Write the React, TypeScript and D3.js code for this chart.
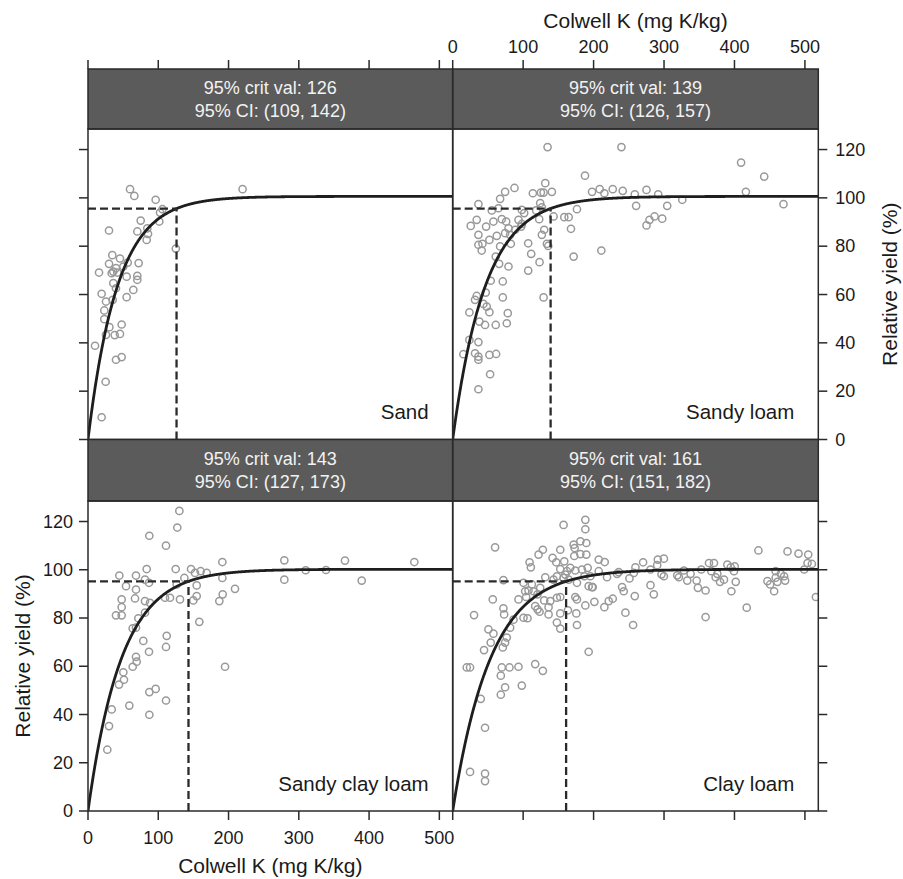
import React from "react";
import * as d3 from "d3";

const soils = ["Sand", "Sandy loam", "Sandy clay loam", "Clay loam"];
const critVals = [126, 139, 143, 161];
const ciLow = [109, 126, 127, 151];
const ciHigh = [142, 157, 173, 182];
const asymptotes = [100.6, 100.6, 100.2, 100.2];
const xTicks = [0, 100, 200, 300, 400, 500];
const yTicks = [0, 20, 40, 60, 80, 100, 120];
const xTitle = "Colwell K (mg K/kg)";
const yTitle = "Relative yield (%)";

const sandPts: [number, number][] = [
  [59.8, 103.6], [65.9, 100.8], [96.3, 99.2], [220, 103.6], [106, 95.3], [102.5, 93.9], [101.5, 90.2],
  [75, 90.6], [29.9, 86.5], [70.2, 86.1], [84.4, 87.4], [85.4, 85.1], [83.5, 82.6], [125, 79],
  [34.6, 76.3], [45.5, 74.9], [29.9, 72.7], [56.5, 73.2], [72.1, 73], [39.8, 70.9], [15.7, 69.1],
  [33.7, 68.8], [41.7, 69.1], [55, 67.4], [70.2, 67.7], [70.2, 66.1], [36, 64.7], [39.8, 62.6],
  [64.5, 61.9], [19.4, 60.3], [25.6, 57.1], [35.1, 57.8], [55, 58.9], [23.2, 53.4], [23.2, 49.8],
  [30.4, 46.5], [47.9, 47.6], [25.6, 43.3], [38, 43.2], [45.5, 43.7], [10, 38.8], [39.8, 33],
  [47.9, 34.1], [25.1, 23.9], [19.4, 9.2], [50.3, 71.6], [36, 69.5],
];

const sandyLoamPts: [number, number][] = [
  [134.7, 121], [239.5, 121], [409.4, 114.6], [442.2, 108.8], [416.2, 102.5], [469.6, 97.4],
  [187.8, 109.2], [131.4, 106.1], [87.7, 104.1], [74.4, 102.5], [67.3, 99.6], [36.5, 97.4],
  [113.8, 101.9], [125.2, 102.2], [129, 102.2], [140.8, 102.5], [124.2, 97.8], [55.5, 94.8],
  [64.9, 95.7], [98.1, 95], [118.5, 94.8], [126.6, 96.1], [197.8, 102.5], [208.7, 103.6],
  [215.3, 101.9], [227.2, 103.6], [241.4, 102.9], [258.5, 101.5], [275.1, 103.3], [291.7, 101.5],
  [325.9, 99.2], [260.4, 96.7], [304.5, 96.7], [176.4, 95.3], [158.4, 92], [164.6, 92],
  [167.9, 87.2], [143.2, 92.3], [275.1, 88.6], [279.4, 90.9], [286.5, 92.3], [297.4, 91.4],
  [171.7, 75.7], [211, 78.2], [25.6, 88.4], [34.1, 90.9], [47.4, 88.1], [57.8, 90.2],
  [69.7, 91.2], [75.9, 90.2], [93.4, 90.9], [97.2, 88.1], [36.5, 84.7], [52.1, 82.6],
  [62.6, 84.3], [74.4, 85.4], [81.5, 84.7], [36.5, 80.6], [42.2, 81], [41.2, 78.2],
  [67.3, 79.9], [82.5, 81], [122.8, 91.2], [129.9, 86.8], [126.6, 84.7], [133.7, 81],
  [135.6, 80.1], [107.2, 81.2], [111.4, 76.8], [123.3, 73.4], [107.2, 69.9], [61.1, 75.7],
  [65.9, 72.7], [79.2, 71.6], [54, 65.7], [71.1, 65.4], [46.9, 60.8], [34.1, 59.4],
  [31.7, 57.8], [71.1, 58.8], [129, 58.8], [43.6, 56.1], [48.3, 55], [23.7, 52.6],
  [52.1, 52.7], [78.2, 52.3], [37.9, 48.8], [45.9, 47.4], [61.1, 47.4], [76.8, 48.1],
  [23.7, 41.2], [36.5, 40.3], [15.1, 35.3], [31.7, 35.7], [36.5, 34.3], [36.5, 33],
  [52.1, 35], [61.6, 35.4], [53.1, 27], [36.5, 20.8], [79.2, 87.4], [88.7, 86.8],
  [98.2, 89.2], [101.5, 93.7],
];

const sandyClayLoamPts: [number, number][] = [
  [130, 124.4], [127.1, 117.5], [87.3, 114.1], [111, 110], [44.6, 97.6], [68.3, 97.6],
  [83.5, 100.3], [124.8, 100.3], [146.6, 100.3], [152.3, 98.7], [160.3, 99.4], [168.9, 98.7],
  [191.2, 103.2], [279.4, 103.9], [365.7, 103.8], [464.4, 103.2], [309.8, 99.8], [338.7, 99.9],
  [279.4, 95.9], [389.5, 95.5], [191.2, 96.6], [81.1, 95.9], [86.8, 94.6], [54.1, 93.2],
  [68.3, 91.8], [137.1, 96.6], [126.2, 93.9], [154.7, 93.5], [209.2, 92.1], [191.7, 89.8],
  [186.9, 87], [154.7, 89.1], [149.9, 87.3], [130.9, 87.7], [109.6, 88.4], [116.7, 88.4],
  [66.9, 88.1], [47.9, 87.7], [81.1, 87], [88.2, 86.3], [47.9, 84.5], [39.8, 81.1],
  [47.9, 81.1], [81.1, 82.2], [71.6, 79.9], [63.6, 75.7], [68.3, 76], [158.4, 78.4],
  [112, 72.6], [78.7, 70.5], [111, 68], [86.8, 66], [68.3, 63.9], [69.3, 61.9],
  [63.6, 59.8], [50.3, 57.5], [51.2, 54.4], [44.1, 52.4], [195, 59.8], [87.3, 49.3],
  [96.3, 50.6], [111, 45.8], [58.8, 43.7], [33.7, 42.1], [87.3, 39.9], [29.9, 35.2],
  [27.5, 25.4],
];

const clayLoamPts: [number, number][] = [
  [157.4, 118.6], [188.3, 120.7], [188.3, 116.8], [60.2, 109.3], [171.7, 110.4], [173.1, 109],
  [181.2, 111.8], [189.7, 111.1], [128, 108.3], [121.9, 106.3], [152.7, 108.3], [172.6, 105.7],
  [181.2, 106.5], [189.7, 106.3], [141.8, 104.9], [109.1, 103.1], [110.9, 101], [147, 103.1],
  [158.4, 103.5], [207.3, 104.2], [215.8, 103.2], [270.3, 103.1], [291.2, 104.2], [299.8, 104.6],
  [434, 108], [475.3, 107.6], [490.9, 106.7], [504.7, 106.3], [503.7, 102.8], [509.9, 102.4],
  [363.8, 102.8], [370.9, 102.8], [389.9, 102.1], [400.3, 101.4], [259.4, 101], [290.3, 101.9],
  [152.7, 100.3], [162.2, 99.4], [174, 99.7], [183.5, 100.1], [191.6, 100.8], [207.3, 99.4],
  [235.7, 99], [257.1, 98.7], [280.8, 100.1], [328.2, 99.7], [352.9, 100.1], [367.1, 99.4],
  [399.3, 99.4], [458.5, 99.4], [465.8, 98.3], [147.9, 97.3], [131.4, 96.9], [164.6, 95.9],
  [176.4, 94.6], [195.4, 97.3], [219.1, 96.9], [250.9, 96.4], [299.8, 97.3], [321.1, 96.9],
  [333, 95.5], [346.3, 95.5], [373.3, 96.9], [379.5, 95], [385.1, 95.9], [401.8, 95],
  [446.8, 95.3], [450.6, 93.9], [461, 95], [471.9, 95.5], [456.3, 91.1], [395.6, 91.1],
  [359, 91.4], [348.1, 92.5], [515.6, 88.7], [417.4, 84.3], [359, 80.4], [280.8, 93.6],
  [285.5, 89.8], [240.5, 92.8], [242.8, 91.1], [258.5, 89.1], [245.2, 82.2], [256.1, 77.1],
  [227.2, 88], [221.5, 87], [215.3, 84.5], [201.1, 86.7], [188.3, 85.2], [193, 93.2],
  [197.8, 92.8], [174, 88.7], [176.4, 87.7], [175.5, 81.9], [176.4, 77.1], [193, 66],
  [163.6, 83.2], [152.7, 81.9], [147.9, 78.1], [152.7, 75.6], [152.7, 88.7], [147.9, 88.4],
  [138.5, 87], [136.1, 84.5], [136.1, 81.5], [123.3, 82.6], [120.4, 83.6], [117.1, 84.9],
  [124.2, 92.5], [120.4, 89.8], [114.8, 91.1], [107.6, 91.4], [104.3, 88.7], [100.5, 94.6],
  [112.4, 93.9], [93.4, 87.7], [56.9, 87.7], [72, 84], [73, 81.5], [30.3, 81.2],
  [100.5, 80.1], [106.2, 79.9], [86.3, 79.3], [81.5, 76], [50.7, 75.3], [57.8, 73.5],
  [76.8, 71.9], [74.4, 69.8], [71.1, 67.8], [54, 69.8], [44.5, 66.7], [19.9, 59.5],
  [24.6, 59.5], [69.7, 59.5], [80.6, 59.5], [93.4, 59.8], [117.1, 60.9], [128, 58.1],
  [68.3, 56.1], [74.4, 51.3], [68.3, 48.2], [98.1, 52], [39.8, 46.5], [45.9, 34.5],
  [24.6, 16.2], [45.9, 15.5], [45.9, 12.4], [72, 95.7], [102.9, 91.1], [129.9, 87.3],
  [143.2, 95.9], [157.4, 96.6], [159.8, 98], [166.9, 100.8], [186.9, 97.3], [198.8, 92.8],
  [499, 100.1], [458.5, 96.7], [470.5, 97.3], [337.7, 98.3], [375.7, 98.3], [394.7, 101],
  [318.7, 97.7], [296.4, 98.1], [233.4, 98.3],
];

const pointSets = [sandPts, sandyLoamPts, sandyClayLoamPts, clayLoamPts];

// layout
const W = 903;
const H = 879;
const colX = [[88, 452.7], [452.7, 818.3]];
const rowY = [
  { stripTop: 69, plotTop: 129, plotBottom: 439.5 },
  { stripTop: 439.5, plotTop: 501, plotBottom: 811 },
];
const FONT = "'Liberation Sans', Arial, Helvetica, sans-serif";
const xMax = 519;
const yMax = 128.5;

function Panel({ i }: { i: number }) {
  const col = i % 2;
  const row = Math.floor(i / 2);
  const [x0, x1] = colX[col];
  const { stripTop, plotTop, plotBottom } = rowY[row];
  const x = d3.scaleLinear().domain([0, xMax]).range([x0, x1]);
  const y = d3.scaleLinear().domain([0, yMax]).range([plotBottom, plotTop]);
  const A = asymptotes[i];
  const crit = critVals[i];
  const k = Math.log(20) / crit;
  const model = (v: number) => A * (1 - Math.exp(-k * v));
  const curveXs = d3.range(0, xMax + 0.5, 0.5);
  const line = d3
    .line<number>()
    .x((v) => x(v))
    .y((v) => y(model(v)));
  const critY = model(crit);
  const clipId = `clip${i}`;
  const tc = "#2a2a2a";
  const tickLen = 9;

  const showLeft = col === 0;
  const leftLabels = col === 0 && row === 1;
  const showRight = col === 1;
  const rightLabels = col === 1 && row === 0;
  const showTop = row === 0;
  const topLabels = row === 0 && col === 1;
  const showBottom = row === 1;
  const bottomLabels = row === 1 && col === 0;

  return (
    <g>
      <defs>
        <clipPath id={clipId}>
          <rect x={x0} y={plotTop} width={x1 - x0} height={plotBottom - plotTop} />
        </clipPath>
      </defs>
      <rect x={x0} y={plotTop} width={x1 - x0} height={plotBottom - plotTop} fill="#fff" />
      <g clipPath={`url(#${clipId})`}>
        {pointSets[i].map((p, j) => (
          <circle
            key={j}
            cx={x(p[0])}
            cy={y(p[1])}
            r={3.6}
            fill="none"
            stroke="#999999"
            strokeWidth={1.5}
          />
        ))}
        <path d={line(curveXs) || ""} fill="none" stroke="#1e1e1e" strokeWidth={2.8} />
        <line
          x1={x(0)}
          x2={x(crit)}
          y1={y(critY)}
          y2={y(critY)}
          stroke="#2a2a2a"
          strokeWidth={2.3}
          strokeDasharray="8,4"
        />
        <line
          x1={x(crit)}
          x2={x(crit)}
          y1={y(0)}
          y2={y(critY)}
          stroke="#2a2a2a"
          strokeWidth={2.3}
          strokeDasharray="8,4"
        />
      </g>
      <text
        x={x1 - 24}
        y={plotBottom - 20.5}
        textAnchor="end"
        fontFamily={FONT}
        fontSize={20.5}
        fill="#1a1a1a"
      >
        {soils[i]}
      </text>
      {/* strip */}
      <rect
        x={x0}
        y={stripTop}
        width={x1 - x0}
        height={plotTop - stripTop}
        fill="#5b5b5b"
        stroke={tc}
        strokeWidth={1.5}
      />
      <text
        x={(x0 + x1) / 2}
        y={(stripTop + plotTop) / 2 - 11.5}
        textAnchor="middle"
        dominantBaseline="central"
        fontFamily={FONT}
        fontSize={18}
        fill="#f2f2f2"
      >
        {`95% crit val: ${crit}`}
      </text>
      <text
        x={(x0 + x1) / 2}
        y={(stripTop + plotTop) / 2 + 11.5}
        textAnchor="middle"
        dominantBaseline="central"
        fontFamily={FONT}
        fontSize={18}
        fill="#f2f2f2"
      >
        {`95% CI: (${ciLow[i]}, ${ciHigh[i]})`}
      </text>
      <rect
        x={x0}
        y={plotTop}
        width={x1 - x0}
        height={plotBottom - plotTop}
        fill="none"
        stroke={tc}
        strokeWidth={1.5}
      />
      {/* axes ticks */}
      {showLeft &&
        yTicks.map((t) => (
          <g key={`l${t}`}>
            <line x1={x0 - tickLen} x2={x0} y1={y(t)} y2={y(t)} stroke={tc} strokeWidth={1.5} />
            {leftLabels && (
              <text
                x={x0 - 15}
                y={y(t)}
                textAnchor="end"
                dominantBaseline="central"
                fontFamily={FONT}
                fontSize={18}
                fill="#1a1a1a"
              >
                {t}
              </text>
            )}
          </g>
        ))}
      {showRight &&
        yTicks.map((t) => (
          <g key={`r${t}`}>
            <line x1={x1} x2={x1 + tickLen} y1={y(t)} y2={y(t)} stroke={tc} strokeWidth={1.5} />
            {rightLabels && (
              <text
                x={x1 + 17}
                y={y(t)}
                textAnchor="start"
                dominantBaseline="central"
                fontFamily={FONT}
                fontSize={18}
                fill="#1a1a1a"
              >
                {t}
              </text>
            )}
          </g>
        ))}
      {showTop &&
        xTicks.map((t) => (
          <g key={`t${t}`}>
            <line
              x1={x(t)}
              x2={x(t)}
              y1={stripTop - tickLen}
              y2={stripTop}
              stroke={tc}
              strokeWidth={1.5}
            />
            {topLabels && (
              <text
                x={x(t)}
                y={stripTop - 22}
                textAnchor="middle"
                dominantBaseline="central"
                fontFamily={FONT}
                fontSize={18}
                fill="#1a1a1a"
              >
                {t}
              </text>
            )}
          </g>
        ))}
      {showBottom &&
        xTicks.map((t) => (
          <g key={`b${t}`}>
            <line
              x1={x(t)}
              x2={x(t)}
              y1={plotBottom}
              y2={plotBottom + tickLen}
              stroke={tc}
              strokeWidth={1.5}
            />
            {bottomLabels && (
              <text
                x={x(t)}
                y={plotBottom + 27}
                textAnchor="middle"
                dominantBaseline="central"
                fontFamily={FONT}
                fontSize={18}
                fill="#1a1a1a"
              >
                {t}
              </text>
            )}
          </g>
        ))}
    </g>
  );
}

export default function App() {
  return (
    <svg
      width={W}
      height={H}
      style={{ position: "absolute", left: 0, top: 0, background: "#fff" }}
    >
      <rect x={0} y={0} width={W} height={H} fill="#fff" />
      {[0, 1, 2, 3].map((i) => (
        <Panel key={i} i={i} />
      ))}
      <line x1={colX[0][1]} x2={colX[0][1]} y1={rowY[0].stripTop} y2={rowY[1].plotBottom} stroke="#2a2a2a" strokeWidth={1.5} />
      <text
        x={(colX[1][0] + colX[1][1]) / 2}
        y={20}
        textAnchor="middle"
        dominantBaseline="central"
        fontFamily={FONT}
        fontSize={21}
        fill="#1a1a1a"
      >
        {xTitle}
      </text>
      <text
        x={(colX[0][0] + colX[0][1]) / 2}
        y={865}
        textAnchor="middle"
        dominantBaseline="central"
        fontFamily={FONT}
        fontSize={21}
        fill="#1a1a1a"
      >
        {xTitle}
      </text>
      <text
        transform={`translate(22,${(rowY[1].plotTop + rowY[1].plotBottom) / 2}) rotate(-90)`}
        textAnchor="middle"
        dominantBaseline="central"
        fontFamily={FONT}
        fontSize={21}
        fill="#1a1a1a"
      >
        {yTitle}
      </text>
      <text
        transform={`translate(889,${(rowY[0].plotTop + rowY[0].plotBottom) / 2}) rotate(-90)`}
        textAnchor="middle"
        dominantBaseline="central"
        fontFamily={FONT}
        fontSize={21}
        fill="#1a1a1a"
      >
        {yTitle}
      </text>
    </svg>
  );
}
